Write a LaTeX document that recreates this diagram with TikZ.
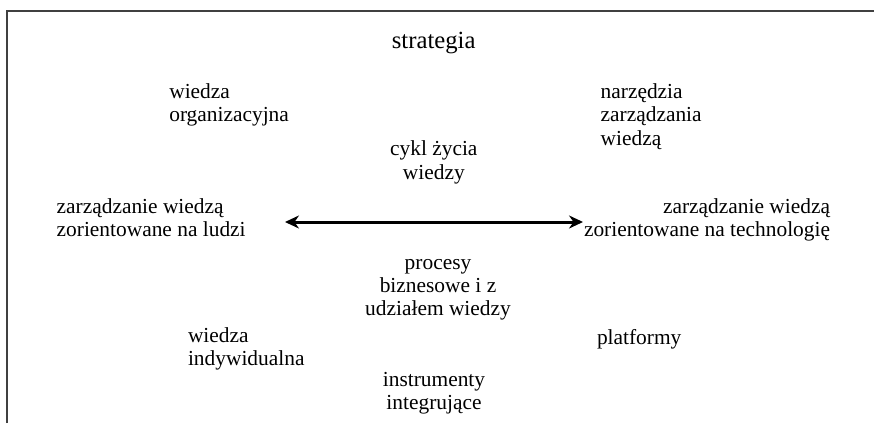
\documentclass[tikz,border=0pt]{standalone}
\usepackage{fontspec}
\setmainfont{Liberation Serif}
\usetikzlibrary{arrows.meta}
\begin{document}
\begin{tikzpicture}[x=1pt,y=-1pt,
  lbl/.style={inner sep=0pt,outer sep=0pt,font=\fontsize{21.4}{23.4}\selectfont},
  title/.style={inner sep=0pt,outer sep=0pt,font=\fontsize{24.7}{27}\selectfont},
  frame/.style={draw=black!75,line width=1.3pt},
  biarrow/.style={line width=3pt,{Stealth[length=14pt,width=13pt]}-{Stealth[length=14pt,width=13pt]}}]
\useasboundingbox (0,0) rectangle (874,423);
\draw[frame] (7,423) -- (7,11) -- (874,11);
\node[title,anchor=base] (strat) at (433.7,48.5) {strategia};
\node[lbl,anchor=base west,align=left] (worg) at (169.3,121.7) {wiedza\\organizacyjna};
\node[lbl,anchor=base west,align=left] (narz) at (600.7,145.1) {narzędzia\\zarządzania\\wiedzą};
\node[lbl,anchor=base,align=center] (cykl) at (433.8,179.1) {cykl życia\\wiedzy};
\node[lbl,anchor=base west,align=left] (zludzi) at (56.7,236.4) {zarządzanie wiedzą\\zorientowane na ludzi};
\node[lbl,anchor=base east,align=right] (ztech) at (830,236.4) {zarządzanie wiedzą\\zorientowane na technologię};
\node[lbl,anchor=base,align=center] (proc) at (438,315.8) {procesy\\biznesowe i z\\udziałem wiedzy};
\node[lbl,anchor=base west,align=left] (wind) at (188,365.4) {wiedza\\indywidualna};
\node[lbl,anchor=base west] (plat) at (597,344) {platformy};
\node[lbl,anchor=base,align=center] (instr) at (434,409.4) {instrumenty\\integrujące};
\coordinate (aL) at (285,222);
\coordinate (aR) at (583,222);
\draw[biarrow] (aL) -- (aR);
\end{tikzpicture}
\end{document}
